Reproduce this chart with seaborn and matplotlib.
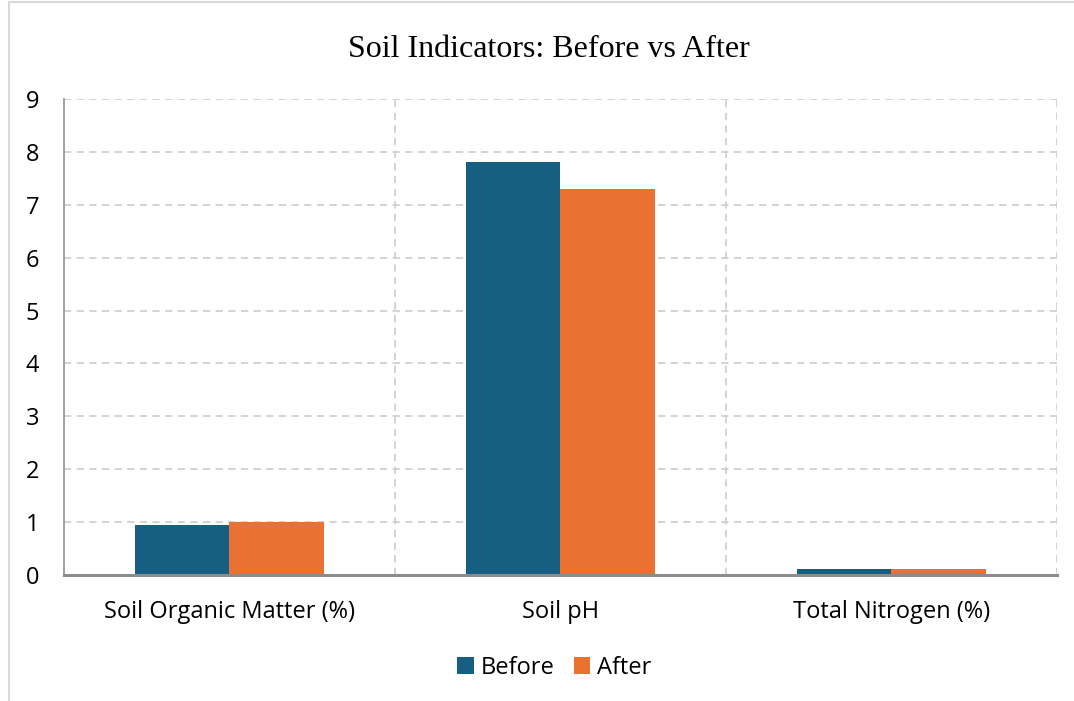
import seaborn as sns
import matplotlib.pyplot as plt
import pandas as pd
from matplotlib.patches import Rectangle

categories = ["Soil Organic Matter (%)", "Soil pH", "Total Nitrogen (%)"]
before = [0.95, 7.8, 0.11]
after = [1.0, 7.3, 0.12]
y_ticks = [0, 1, 2, 3, 4, 5, 6, 7, 8, 9]

df = pd.DataFrame({
    "Indicator": categories * 2,
    "Value": before + after,
    "Period": ["Before"] * 3 + ["After"] * 3,
})

sns.set_style("white")
plt.rcParams["font.family"] = ["Open Sans", "DejaVu Sans"]
plt.rcParams["text.color"] = "#000000"

fig = plt.figure(figsize=(10.74, 7.01), dpi=100)
ax = fig.add_axes([0.0596, 0.1797, 0.9244, 0.6791])

sns.barplot(
    data=df, x="Indicator", y="Value", hue="Period",
    palette={"Before": "#175f82", "After": "#e97132"},
    width=0.57, gap=0, saturation=1, linewidth=0, ax=ax, legend=True,
)

ax.set_xlim(-0.5, 2.5)
ax.set_ylim(0, 9)
ax.set_yticks(y_ticks)
ax.grid(axis="y", linestyle=(0, (4, 3)), color="#d0d0d0", linewidth=1.3)
for xv in [0.5, 1.5, 2.5]:
    ax.axvline(xv, linestyle=(0, (4, 3)), color="#d0d0d0", linewidth=1.3, zorder=0)
ax.set_axisbelow(True)

for s in ["top", "right"]:
    ax.spines[s].set_visible(False)
ax.spines["left"].set_color("#999999")
ax.spines["left"].set_linewidth(1.3)
ax.spines["bottom"].set_color("#8c8c8c")
ax.spines["bottom"].set_linewidth(2.2)

ax.tick_params(axis="both", length=0, labelsize=17, colors="#000000")
ax.tick_params(axis="y", pad=18)
ax.tick_params(axis="x", pad=18)
ax.set_xlabel("")
ax.set_ylabel("")

fig.suptitle("Soil Indicators: Before vs After", x=0.511, y=0.95,
             fontsize=23, color="#000000", family=["Liberation Serif"])

leg = ax.legend(loc="upper center", bbox_to_anchor=(0.494, -0.125), ncol=2,
                frameon=False, fontsize=17, handlelength=0.7, handleheight=0.7,
                handletextpad=0.3, columnspacing=0.8)
for t in leg.get_texts():
    t.set_color("#000000")

fig.patches.append(Rectangle((0.008, -0.05), 1.1, 1.047, transform=fig.transFigure,
                             fill=False, edgecolor="#d9d9d9", linewidth=1.5))

plt.savefig("out.png", dpi=100)
